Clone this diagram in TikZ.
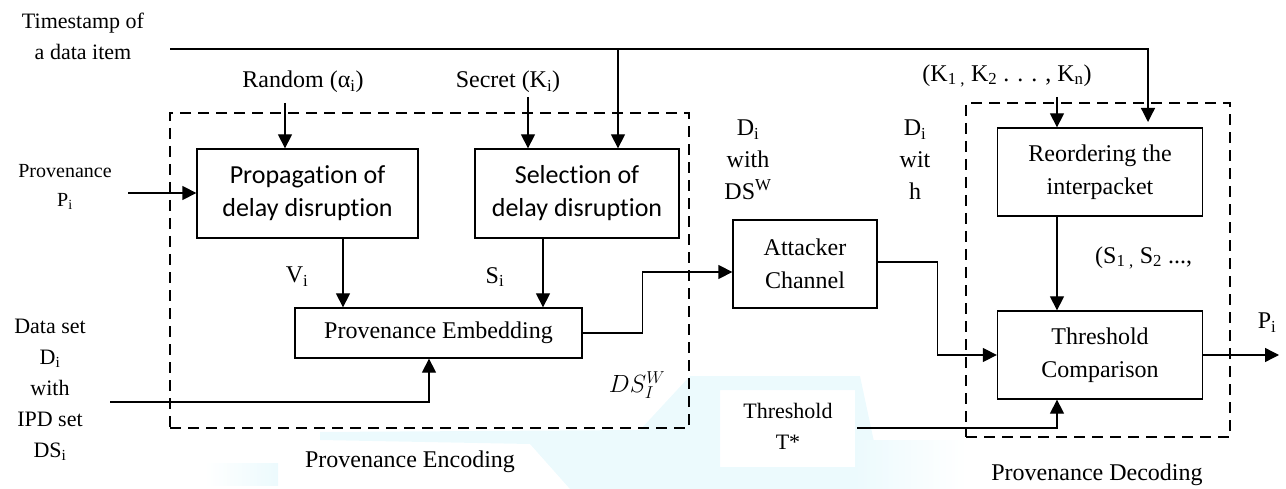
\documentclass[tikz,border=0pt]{standalone}
\usepackage{fontspec}
\setmainfont{Liberation Serif}
\newfontfamily\calibri[Ligatures=NoCommon]{Carlito}
\usetikzlibrary{arrows.meta,calc}
\definecolor{haze}{RGB}{236,250,253}
\tikzset{
  blk/.style={draw,line width=1.3pt,inner sep=0pt,align=center,font=\fontsize{24}{33}\selectfont},
  cblk/.style={blk,font=\calibri\fontsize{26}{33}\selectfont},
  arr/.style={line width=1.3pt,-{Triangle[length=14pt,width=14pt]}},
  grp/.style={draw,line width=1.3pt,dash pattern=on 11pt off 7pt,inner sep=0pt},
  lbl/.style={inner sep=0pt,align=center,font=\fontsize{24}{32}\selectfont},
  sml/.style={inner sep=0pt,align=center,font=\fontsize{22}{31}\selectfont},
  tiny/.style={inner sep=0pt,align=center,font=\fontsize{20}{29}\selectfont},
}
\begin{document}
\begin{tikzpicture}[x=1pt,y=-1pt]
\useasboundingbox (0,0) rectangle (1286,489);

% faint tinted background patches along the bottom edge
\fill[haze,even odd rule] (598,489) -- (640,430) -- (690,376) -- (860,376) -- (880,470) -- (870,489) -- cycle
      (720,390) rectangle (855,467);
\fill[haze] (320,432) -- (640,430) -- (605,489) -- (570,489) -- (530,444) -- (320,440) -- cycle;
\shade[left color=white,right color=haze] (205,463) rectangle (278,485);
\shade[left color=haze,right color=white] (855,440) rectangle (966,489);

% dashed group frames
\node[grp,minimum width=519pt,minimum height=315pt] (enc) at (429.5,270.5) {};
\node[grp,minimum width=264pt,minimum height=334pt] (dec) at (1098,270) {};

% processing blocks
\node[cblk,minimum width=221pt,minimum height=89pt] (prop) at (307.5,193.5) {Propagation of\\delay disruption};
\node[cblk,minimum width=204pt,minimum height=89pt] (sel) at (577,193.5) {Selection of\\delay disruption};
\node[blk,minimum width=287pt,minimum height=50pt] (emb) at (438.5,333) {Provenance Embedding};
\node[blk,minimum width=144pt,minimum height=88pt] (att) at (805,264) {Attacker\\Channel};
\node[blk,minimum width=205pt,minimum height=88pt] (reo) at (1100,172) {Reordering the\\interpacket};
\node[blk,minimum width=205pt,minimum height=88pt] (thc) at (1100,355) {Threshold\\Comparison};

% text labels
\node[sml] (ts) at (83,36) {Timestamp of\\a data item};
\node[lbl] (rnd) at (303,82) {Random (α\textsubscript{i})};
\node[lbl] (sec) at (508,82) {Secret (K\textsubscript{i})};
\node[tiny] (pp) at (65,187) {Provenance\\P\textsubscript{i}};
\node[lbl] (vi) at (297,277) {V\textsubscript{i}};
\node[lbl] (si) at (495,277) {S\textsubscript{i}};
\node[sml] (ds) at (50,390) {Data set\\D\textsubscript{i}\\with\\IPD set\\DS\textsubscript{i}};
\node[lbl] (dsw) at (637,385) {$DS_I^W$};
\node[lbl] (encl) at (410,462) {Provenance Encoding};
\node[lbl] (dw1) at (748,160) {D\textsubscript{i}\\with\\DS\textsuperscript{W}};
\node[lbl] (dw2) at (915,160) {D\textsubscript{i}\\wit\\h};
\node[lbl] (keys) at (1007,76) {(K\textsubscript{1 ,} K\textsubscript{2} . . . , K\textsubscript{n})};
\node[lbl,anchor=west] (svals) at (1095,258) {(S\textsubscript{1 ,} S\textsubscript{2} ...,};
\node[sml] (thr) at (788,426) {Threshold\\T*};
\node[lbl] (po) at (1267,323) {P\textsubscript{i}};
\node[lbl] (decl) at (1097,475) {Provenance Decoding};

% free ends of connectors
\coordinate (tsA) at (170,49);
\coordinate (tsJ) at (618,49);
\coordinate (tsE) at (1148,122);
\coordinate (rndA) at (285,103);
\coordinate (secA) at (528,97);
\coordinate (ppA) at (128,193);
\coordinate (dsA) at (110,402);
\coordinate (keyA) at (1057,97);
\coordinate (thrA) at (857,428);
\coordinate (out) at (1279,355);

% connectors
\draw[arr] (tsA) -| (tsE);
\draw[arr] (tsJ) -- (tsJ |- sel.north);
\draw[arr] (rndA) -- (rndA |- prop.north);
\draw[arr] (secA) -- (secA |- sel.north);
\draw[arr] (ppA) -- (ppA -| prop.west);
\draw[arr] ([xshift=35.5pt]prop.south) -- ([xshift=35.5pt]prop.south |- emb.north);
\draw[arr] ([xshift=-34pt]sel.south) -- ([xshift=-34pt]sel.south |- emb.north);
\draw[arr] (dsA) -| ([xshift=-9.5pt]emb.south);
\draw[arr] (emb.east) -- ++(60,0) |- ([yshift=-8pt]att.west);
\draw[arr] ([yshift=2pt]att.east) -- ++(60,0) |- (thc.west);
\draw[arr] (keyA) -- (keyA |- reo.north);
\draw[arr] ([xshift=-43pt]reo.south) -- ([xshift=-43pt]thc.north);
\draw[arr] (thrA) -| ([xshift=-43pt]thc.south);
\draw[arr] (thc.east) -- (out);
\end{tikzpicture}
\end{document}
